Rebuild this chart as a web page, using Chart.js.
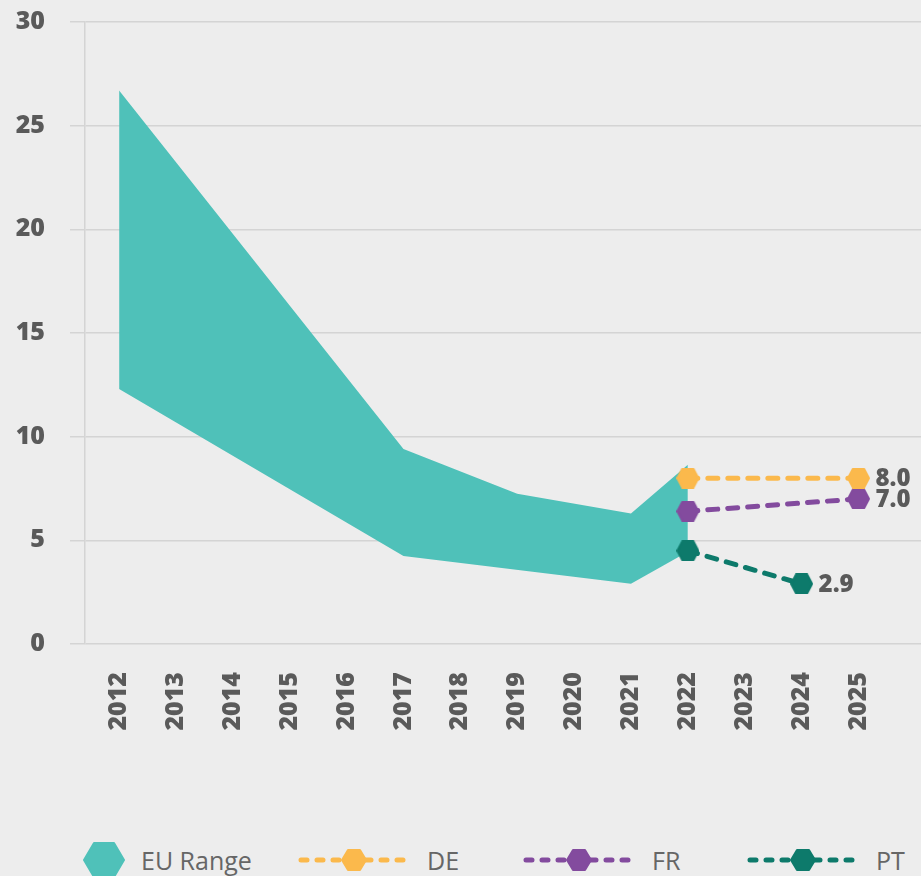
<!DOCTYPE html>
<html>
<head>
<meta charset="utf-8">
<script src="https://cdn.jsdelivr.net/npm/chart.js@4.4.1/dist/chart.umd.min.js"></script>
<style>
  html, body { margin: 0; padding: 0; background: #ededed; }
  body { width: 921px; height: 876px; position: relative; overflow: hidden; font-family: "Open Sans", sans-serif; }
  #wrap { position: absolute; left: 0; top: 0; width: 921px; height: 740px; }
  .legend { position: absolute; top: 840px; left: 0; width: 921px; height: 40px; }
  .item { position: absolute; top: 0; height: 40px; display: flex; align-items: center; }
  .item span { font-size: 25px; color: #666; margin-left: 16px; }
</style>
</head>
<body>
<div id="wrap"><canvas id="grafico"></canvas></div>
<div class="legend">
  <div class="item" style="left:83px"><svg width="42" height="40"><polygon points="1,20 11,3 31,3 41,20 31,37 11,37" fill="#4fc1b9" stroke="#4fc1b9" stroke-width="2" stroke-linejoin="round"/></svg><span>EU Range</span></div>
  <div class="item" style="left:297px"><svg width="114" height="40" id="lgDE"></svg><span>DE</span></div>
  <div class="item" style="left:522px"><svg width="114" height="40" id="lgFR"></svg><span>FR</span></div>
  <div class="item" style="left:746px"><svg width="114" height="40" id="lgPT"></svg><span>PT</span></div>
</div>
<script>
// anos do eixo x
const anos = [2012, 2013, 2014, 2015, 2016, 2017, 2018, 2019, 2020, 2021, 2022, 2023, 2024, 2025];

// faixa da UE (limites superior e inferior)
const euMax = [26.7, null, null, null, null, 9.4, null, 7.25, null, 6.3, 8.65, null, null, null];
const euMin = [12.3, null, null, null, null, 4.25, null, null, null, 2.9, 4.45, null, null, null];

// países
const serieDE = [null, null, null, null, null, null, null, null, null, null, 8.0, null, null, 8.0];
const serieFR = [null, null, null, null, null, null, null, null, null, null, 6.4, null, null, 7.0];
const seriePT = [null, null, null, null, null, null, null, null, null, null, 4.5, null, 2.9, null];

const yTicks = [0, 5, 10, 15, 20, 25, 30];

const cores = { eu: '#4fc1b9', DE: '#fbb94c', FR: '#834b9e', PT: '#0d7a6b' };
const texto = '#5a5a5a';
const fonte = '"Open Sans", sans-serif';

const pontos = (arr) => arr.map((v, i) => ({ x: anos[i], y: v })).filter(p => p.y !== null);

// hexágono usado como marcador
function hexagono(cor, w, h) {
    const c = document.createElement('canvas');
    c.width = w; c.height = h;
    const g = c.getContext('2d');
    g.fillStyle = cor;
    g.strokeStyle = cor;
    g.lineJoin = 'round';
    g.lineWidth = 2;
    g.beginPath();
    g.moveTo(1, h / 2);
    g.lineTo(w * 0.26, 1);
    g.lineTo(w * 0.74, 1);
    g.lineTo(w - 1, h / 2);
    g.lineTo(w * 0.74, h - 1);
    g.lineTo(w * 0.26, h - 1);
    g.closePath();
    g.fill();
    g.stroke();
    return c;
}

function linhaPais(label, arr, cor) {
    return {
        label: label,
        data: pontos(arr),
        borderColor: cor,
        backgroundColor: cor,
        borderWidth: 5,
        borderDash: [10, 10],
        borderCapStyle: 'round',
        pointStyle: hexagono(cor, 23, 21),
        pointRadius: 11,
        pointHoverRadius: 11,
        fill: false,
        tension: 0,
        order: 0,
        valor: true
    };
}

// rótulo com o valor do último ponto de cada país
const rotulos = {
    id: 'rotulos',
    afterDatasetsDraw(chart) {
        const ctx = chart.ctx;
        ctx.save();
        ctx.font = '800 24px ' + fonte;
        ctx.fillStyle = texto;
        ctx.textBaseline = 'middle';
        chart.data.datasets.forEach((ds, i) => {
            if (!ds.valor) return;
            const meta = chart.getDatasetMeta(i);
            const ult = meta.data[meta.data.length - 1];
            const v = ds.data[ds.data.length - 1].y;
            ctx.fillText(v.toFixed(1), ult.x + 17, ult.y + 1);
        });
        ctx.restore();
    }
};

new Chart(document.getElementById('grafico'), {
    type: 'line',
    data: {
        datasets: [
            linhaPais('DE', serieDE, cores.DE),
            linhaPais('FR', serieFR, cores.FR),
            linhaPais('PT', seriePT, cores.PT),
            {
                label: 'EU Range',
                data: pontos(euMax),
                borderWidth: 0,
                borderColor: cores.eu,
                backgroundColor: cores.eu,
                pointRadius: 0,
                fill: '+1',
                tension: 0,
                order: 1
            },
            {
                label: 'EU min',
                data: pontos(euMin),
                borderWidth: 0,
                borderColor: cores.eu,
                backgroundColor: cores.eu,
                pointRadius: 0,
                fill: false,
                tension: 0,
                order: 1
            }
        ]
    },
    options: {
        responsive: true,
        maintainAspectRatio: false,
        animation: false,
        layout: { autoPadding: false, padding: { top: 22, left: 15, right: 0, bottom: 0 } },
        plugins: { legend: { display: false }, tooltip: { enabled: false } },
        scales: {
            x: {
                type: 'linear',
                min: 2011.4,
                max: 2026.1,
                afterBuildTicks: (s) => { s.ticks = anos.map(v => ({ value: v })); },
                afterFit: (s) => { s.height = 96; s.paddingLeft = 0; s.paddingRight = 0; },
                grid: { display: false },
                border: { display: false },
                ticks: {
                    autoSkip: false,
                    minRotation: 90,
                    maxRotation: 90,
                    padding: 20,
                    color: texto,
                    font: { family: fonte, size: 25, weight: '800' },
                    callback: (v) => String(v)
                }
            },
            y: {
                min: 0,
                max: 30,
                afterBuildTicks: (s) => { s.ticks = yTicks.map(v => ({ value: v })); },
                afterFit: (s) => { s.width = 70; s.paddingTop = 0; s.paddingBottom = 0; },
                grid: { color: '#d4d4d4', lineWidth: 1.5, tickLength: 15 },
                border: { display: true, color: '#d4d4d4', width: 1.5 },
                ticks: {
                    padding: 25,
                    color: texto,
                    font: { family: fonte, size: 25, weight: '800' }
                }
            }
        }
    },
    plugins: [rotulos]
});

// símbolos da legenda: linha tracejada com hexágono ao centro
[['lgDE', cores.DE], ['lgFR', cores.FR], ['lgPT', cores.PT]].forEach(([id, cor]) => {
    const svg = document.getElementById(id);
    svg.innerHTML =
        '<line x1="4" y1="20" x2="110" y2="20" stroke="' + cor + '" stroke-width="5" stroke-linecap="round" stroke-dasharray="6 10"/>' +
        '<polygon points="45,20 51,10 63,10 69,20 63,30 51,30" fill="' + cor + '" stroke="' + cor + '" stroke-width="2" stroke-linejoin="round"/>';
});
</script>
</body>
</html>
